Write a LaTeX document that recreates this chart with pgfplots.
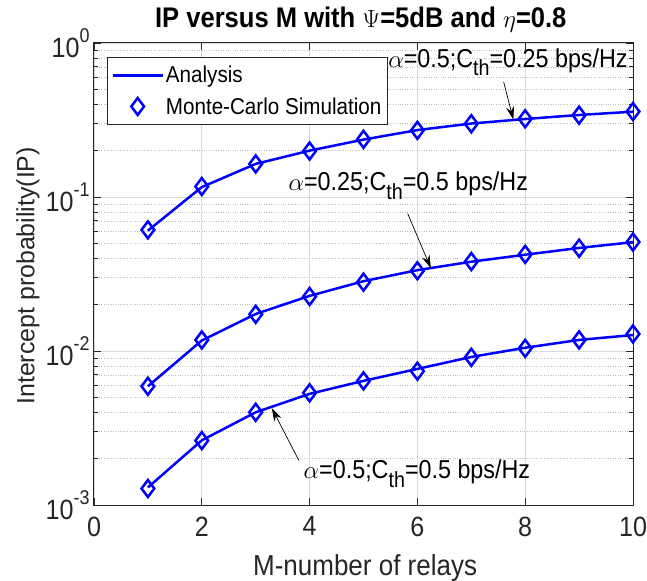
\documentclass[border=0pt]{standalone}
\usepackage{fontspec}
\setmainfont{Liberation Sans}[FakeStretch=0.9]
\newfontfamily\ylfont{Liberation Sans}
\usepackage{pgfplots}
\pgfplotsset{compat=1.18}
\usetikzlibrary{arrows.meta}
\usepackage{pgfplotstable}
\newcommand{\tenp}[1]{10\raisebox{1.0ex}{\fontsize{20}{20}\selectfont #1}}
\newcommand{\Cth}{C\raisebox{-0.65ex}{\fontsize{22}{22}\selectfont th}}
\definecolor{axgray}{gray}{0.15}
\definecolor{mblue}{RGB}{0,0,255}
\pgfplotsset{
  lineleg/.style={legend image code/.code={\draw[##1] (0bp,0bp) -- (50bp,0bp);}},
  markleg/.style={legend image code/.code={\draw[##1] plot coordinates {(25bp,0bp)};}},
}

\pgfplotstableread{
M top mid bot
1 0.0605 0.0059 0.00130
2 0.116 0.0117 0.00263
3 0.164 0.0174 0.00400
4 0.200 0.0228 0.00527
5 0.236 0.0284 0.00640
6 0.272 0.0335 0.00765
7 0.300 0.0380 0.00915
8 0.321 0.0422 0.0105
9 0.341 0.0467 0.0118
10 0.358 0.0509 0.0127
}\anadata

\pgfplotstableread{
M top mid bot
1 0.0612 0.0059 0.00128
2 0.117 0.0118 0.00262
3 0.164 0.0173 0.00400
4 0.199 0.0226 0.00535
5 0.237 0.0280 0.00640
6 0.271 0.0332 0.00740
7 0.299 0.0381 0.00910
8 0.322 0.0424 0.0104
9 0.340 0.0465 0.0118
10 0.359 0.0510 0.0129
}\simdata

\begin{document}
\begin{tikzpicture}
\useasboundingbox (-94bp,-76bp) rectangle (553bp,505bp);
\begin{axis}[
  at={(0,0)}, anchor=south west,
  scale only axis, width=539bp, height=462bp,
  ymode=log, xmin=0, xmax=10, ymin=1e-3, ymax=1,
  xtick={0,2,4,6,8,10},
  xticklabels={0,2,4,6,8,10},
  ytick={1e-3,1e-2,1e-1,1},
  yticklabels={\tenp{-3},\tenp{-2},\tenp{-1},\tenp{0}},
  minor ytick={0.002,0.003,0.004,0.005,0.006,0.007,0.008,0.009,0.02,0.03,0.04,0.05,0.06,0.07,0.08,0.09,0.2,0.3,0.4,0.5,0.6,0.7,0.8,0.9},
  xmajorgrids, ymajorgrids, yminorgrids,
  major grid style={black!15, line width=0.8bp},
  minor grid style={black!25, dotted, line width=0.7bp},
  tick align=inside, major tick length=7bp, minor tick length=4bp,
  axis line style={axgray, line width=1bp},
  every tick/.style={axgray, line width=0.8bp},
  ticklabel style={font=\fontsize{28}{28}\selectfont, text=axgray},
  xticklabel style={yshift=-8bp},
  yticklabel style={xshift=-1bp},
  xlabel={M-number of relays},
  xlabel style={font=\fontsize{29}{29}\selectfont, text=axgray, at={(axis description cs:0.503,-0.136)}, anchor=center},
  ylabel={\ylfont Intercept probability(IP)},
  ylabel style={font=\fontsize{25}{25}\selectfont, text=axgray, at={(axis description cs:-0.1225,0.496)}, anchor=center},
  legend style={at={(axis description cs:0.024,0.97)}, anchor=north west, draw=axgray, line width=1bp, fill=white,
    font=\fontsize{23}{23}\selectfont, inner xsep=4bp, inner ysep=7bp, row sep=9bp, cells={anchor=west}},
]
\addplot[mblue, line width=2.5bp, no marks, lineleg] table[x=M, y=top] {\anadata};
\addlegendentry{Analysis}
\addplot[mblue, line width=2.5bp, only marks, mark=diamond, mark size=8.5bp, markleg] table[x=M, y=top] {\simdata};
\addlegendentry{Monte-Carlo Simulation}
\addplot[mblue, line width=2.5bp, no marks, forget plot] table[x=M, y=mid] {\anadata};
\addplot[mblue, line width=2.5bp, only marks, mark=diamond, mark size=8.5bp, forget plot] table[x=M, y=mid] {\simdata};
\addplot[mblue, line width=2.5bp, no marks, forget plot] table[x=M, y=bot] {\anadata};
\addplot[mblue, line width=2.5bp, only marks, mark=diamond, mark size=8.5bp, forget plot] table[x=M, y=bot] {\simdata};

\node[font=\fontsize{26}{26}\selectfont, anchor=center] at (axis cs:7.68,0.75) {$\alpha$=0.5;\Cth=0.25 bps/Hz};
\draw[black, line width=0.7bp, -{Stealth[length=13bp,width=8bp]}] (axis cs:7.6,0.56) -- (axis cs:7.78,0.318);
\node[font=\fontsize{26}{26}\selectfont, anchor=center] at (axis cs:5.83,0.118) {$\alpha$=0.25;\Cth=0.5 bps/Hz};
\draw[black, line width=0.7bp, -{Stealth[length=13bp,width=8bp]}] (axis cs:5.82,0.078) -- (axis cs:6.25,0.0345);
\node[font=\fontsize{26}{26}\selectfont, anchor=center] at (axis cs:5.99,0.0016) {$\alpha$=0.5;\Cth=0.5 bps/Hz};
\draw[black, line width=0.7bp, -{Stealth[length=13bp,width=8bp]}] (axis cs:3.8,0.00195) -- (axis cs:3.3,0.00425);
\end{axis}
\node[font=\fontsize{28.5}{28.5}\selectfont\bfseries, anchor=base, inner sep=0pt] at (266.8bp,477bp) {IP versus M with $\Psi$=5dB and $\eta$=0.8};
\end{tikzpicture}
\end{document}
